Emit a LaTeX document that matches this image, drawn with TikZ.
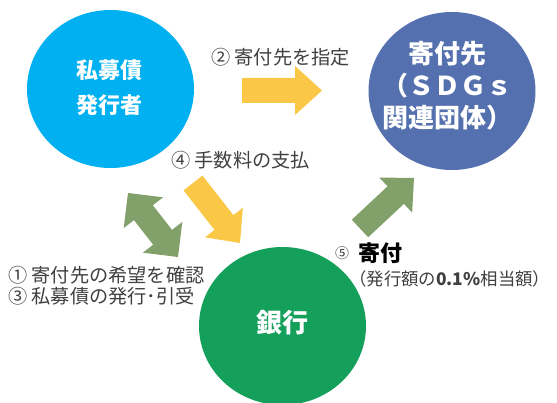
\documentclass[tikz,border=0pt]{standalone}
\usepackage{fontspec}
\setmainfont{Noto Sans CJK JP}
\usetikzlibrary{calc,shapes.geometric}
\definecolor{issuerblue}{HTML}{00B0F0}
\definecolor{sdgblue}{HTML}{5470AE}
\definecolor{bankgreen}{HTML}{14A05A}
\definecolor{arrowyellow}{HTML}{FAC846}
\definecolor{arrowgreen}{HTML}{82A16A}
\definecolor{labelgray}{HTML}{404040}
% single block arrow: #1 colour, #2 start, #3 tip, #4 shaft half width, #5 head half width, #6 head length
\newcommand{\myonearrow}[6]{%
  \coordinate (#2-hb) at ($(#3)!#6!(#2)$);
  \fill[#1] ($(#2)!#4!90:(#3)$) -- ($(#2-hb)!#4!90:(#3)$) -- ($(#2-hb)!#5!90:(#3)$) -- (#3)
    -- ($(#2-hb)!#5!-90:(#3)$) -- ($(#2-hb)!#4!-90:(#3)$) -- ($(#2)!#4!-90:(#3)$) -- cycle;}
% double block arrow
\newcommand{\mytwoarrow}[6]{%
  \coordinate (#2-hb) at ($(#2)!#6!(#3)$);
  \coordinate (#3-hb) at ($(#3)!#6!(#2)$);
  \fill[#1] (#2) -- ($(#2-hb)!#5!90:(#3)$) -- ($(#2-hb)!#4!90:(#3)$) -- ($(#3-hb)!#4!90:(#3)$)
    -- ($(#3-hb)!#5!90:(#3)$) -- (#3) -- ($(#3-hb)!#5!-90:(#3)$) -- ($(#3-hb)!#4!-90:(#3)$)
    -- ($(#2-hb)!#4!-90:(#3)$) -- ($(#2-hb)!#5!-90:(#3)$) -- cycle;}
\begin{document}
\begin{tikzpicture}[x=1pt,y=-1pt,
  party/.style={ellipse,minimum width=167pt,minimum height=158pt,inner sep=0pt},
  partytext/.style={text=white,align=center,inner sep=0pt},
  lbl/.style={text=labelgray,anchor=west,inner sep=0pt,font=\fontsize{19.2}{21}\selectfont}]
\useasboundingbox[fill=white] (0,0) rectangle (557,403);

% parties
\node[party,fill=issuerblue] (issuer) at (110.5,89) {};
\node[partytext,font=\bfseries\fontsize{22}{35}\selectfont] (issuertext) at (109,88) {私募債\\発行者};
\node[party,fill=sdgblue] (sdg) at (452,91) {};
\node[partytext,font=\bfseries\fontsize{26}{32}\selectfont] (sdgtext) at (447,86) {寄付先\\（ＳＤＧｓ\\関連団体）};
\node[party,fill=bankgreen] (bank) at (282.5,326) {};
\node[partytext,font=\bfseries\fontsize{26}{30}\selectfont] (banktext) at (282,323) {銀行};

% arrows
\coordinate (y1s) at (242,90.5); \coordinate (y1e) at (322,90.5);
\coordinate (y2s) at (193,183);  \coordinate (y2e) at (240,243);
\coordinate (g1s) at (128,193);  \coordinate (g1e) at (178,257);
\coordinate (g2s) at (360,228.5); \coordinate (g2e) at (414,178);
\myonearrow{arrowyellow}{y1s}{y1e}{12.5pt}{24.5pt}{27pt}
\myonearrow{arrowyellow}{y2s}{y2e}{12pt}{24pt}{26pt}
\mytwoarrow{arrowgreen}{g1s}{g1e}{12pt}{25pt}{25pt}
\myonearrow{arrowgreen}{g2s}{g2e}{12pt}{24pt}{25pt}

% labels
\node[lbl] (t2) at (211,57) {② 寄付先を指定};
\node[lbl] (t4) at (171,160) {④ 手数料の支払};
\node[lbl] (t1) at (8,275) {① 寄付先の希望を確認};
\node[lbl] (t3) at (8,296) {③ 私募債の発行･引受};
\node[lbl,font=\fontsize{14}{16}\selectfont] (t5n) at (335,253) {⑤};
\node[lbl,text=black,font=\bfseries\fontsize{22}{24}\selectfont] (t5) at (358,253) {寄付};
\node[lbl,font=\fontsize{17.4}{20}\selectfont] (t5b) at (349,279) {（発行額の\textbf{0.1\%}相当額）};
\end{tikzpicture}
\end{document}
